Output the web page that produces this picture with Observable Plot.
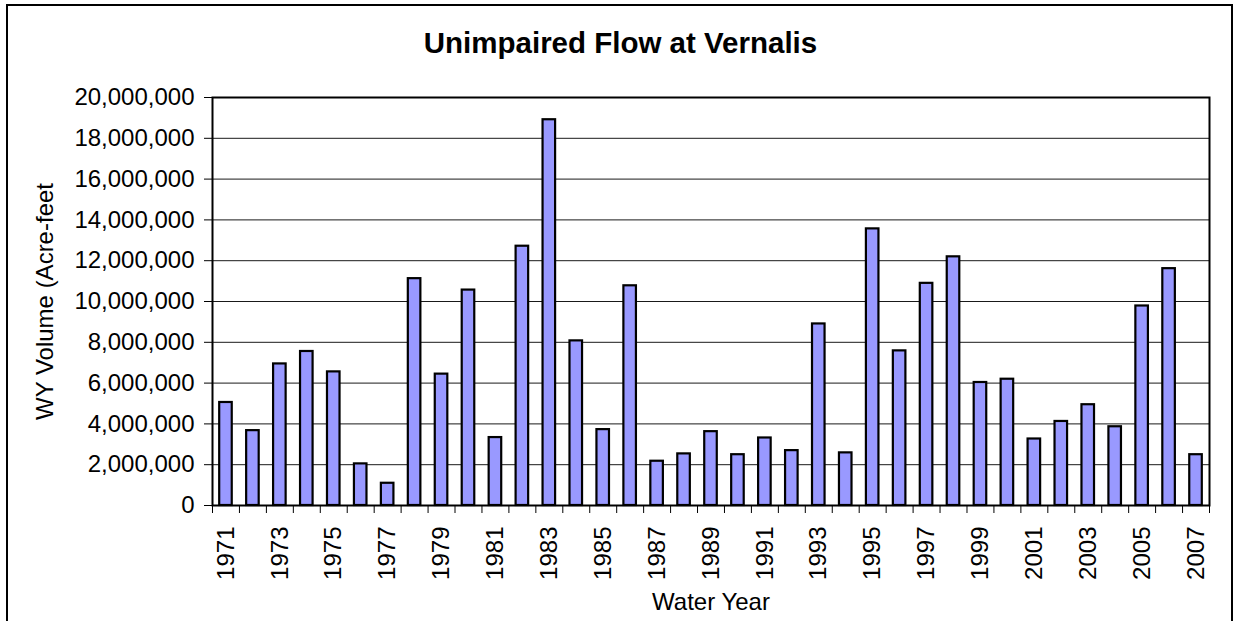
<!DOCTYPE html>
<html>
<head>
<meta charset="utf-8">
<script src="https://cdn.jsdelivr.net/npm/d3@7"></script>
<script src="https://cdn.jsdelivr.net/npm/@observablehq/plot@0.6"></script>
<style>
  body { margin: 0; background: #fff; font-family: Arial, "Liberation Sans", sans-serif; }
  #wrap { position: relative; width: 1235px; height: 621px; overflow: hidden; background: #fff; }
  #border { position: absolute; left: 6px; top: 4px; width: 1227px; height: 660px; border: 2px solid #000; box-sizing: border-box; }
  #title { position: absolute; left: 6px; top: 26px; width: 1229px; height: 33px; line-height: 33px;
           text-align: center; font-size: 29.5px; font-weight: bold; color: #000; }
  #chart { position: absolute; left: 0; top: 80px; }
  #chart svg { overflow: visible; }
</style>
</head>
<body>
<div id="wrap">
  <div id="border"></div>
  <div id="title">Unimpaired Flow at Vernalis</div>
  <div id="chart"></div>
</div>
<script>
const years = [1971,1972,1973,1974,1975,1976,1977,1978,1979,1980,1981,1982,1983,1984,1985,1986,1987,1988,1989,1990,1991,1992,1993,1994,1995,1996,1997,1998,1999,2000,2001,2002,2003,2004,2005,2006,2007];
const volumes = [5050000,3670000,6940000,7550000,6550000,2040000,1090000,11120000,6440000,10560000,3330000,12710000,18910000,8070000,3720000,10770000,2170000,2530000,3620000,2490000,3310000,2690000,8900000,2580000,13560000,7580000,10890000,12190000,6030000,6190000,3260000,4120000,4940000,3860000,9780000,11610000,2490000];
const yTicks = [0,2000000,4000000,6000000,8000000,10000000,12000000,14000000,16000000,18000000,20000000];
const labelYears = years.filter((y, i) => i % 2 === 0);
const yLabel = "WY Volume (Acre-feet";
const xLabel = "Water Year";

const data = years.map((year, i) => ({year, value: volumes[i]}));
const boundaries = years.map(y => y - 0.5).concat([years[years.length - 1] + 0.5]);

const fontFamily = 'Arial, "Liberation Sans", sans-serif';

const chart = Plot.plot({
  width: 1235,
  height: 541,
  marginTop: 17,
  marginBottom: 116,
  marginLeft: 212,
  marginRight: 26,
  style: {fontFamily, fontSize: "24px", color: "#000", background: "transparent"},
  x: {type: "linear", domain: [years[0] - 0.5, years[years.length - 1] + 0.5]},
  y: {domain: [0, 20000000]},
  marks: [
    Plot.gridY(yTicks, {stroke: "#000", strokeOpacity: 0.9, strokeWidth: 1}),
    Plot.rectY(data, {
      x1: d => d.year - 0.5,
      x2: d => d.year + 0.5,
      y: "value",
      insetLeft: 7.2,
      insetRight: 7.2,
      fill: "#9999FF",
      stroke: "#000",
      strokeWidth: 2.2
    }),
    Plot.frame({stroke: "#000", strokeWidth: 2}),
    Plot.axisY({
      ticks: yTicks,
      tickFormat: d3.format(","),
      tickSize: 8,
      tickPadding: 10,
      fontSize: 24,
      label: yLabel,
      labelAnchor: "center",
      labelArrow: false,
      labelOffset: 177,
      stroke: "#000"
    }),
    Plot.axisX({
      ticks: boundaries,
      tickFormat: () => "",
      tickSize: 8,
      stroke: "#000",
      label: null
    }),
    Plot.axisX({
      ticks: labelYears,
      tickFormat: d => String(d),
      tickSize: 0,
      tickPadding: 21,
      tickRotate: -90,
      fontSize: 24,
      label: xLabel,
      labelAnchor: "center",
      labelArrow: false,
      labelOffset: 104
    })
  ]
});
document.getElementById("chart").appendChild(chart);
</script>
</body>
</html>
